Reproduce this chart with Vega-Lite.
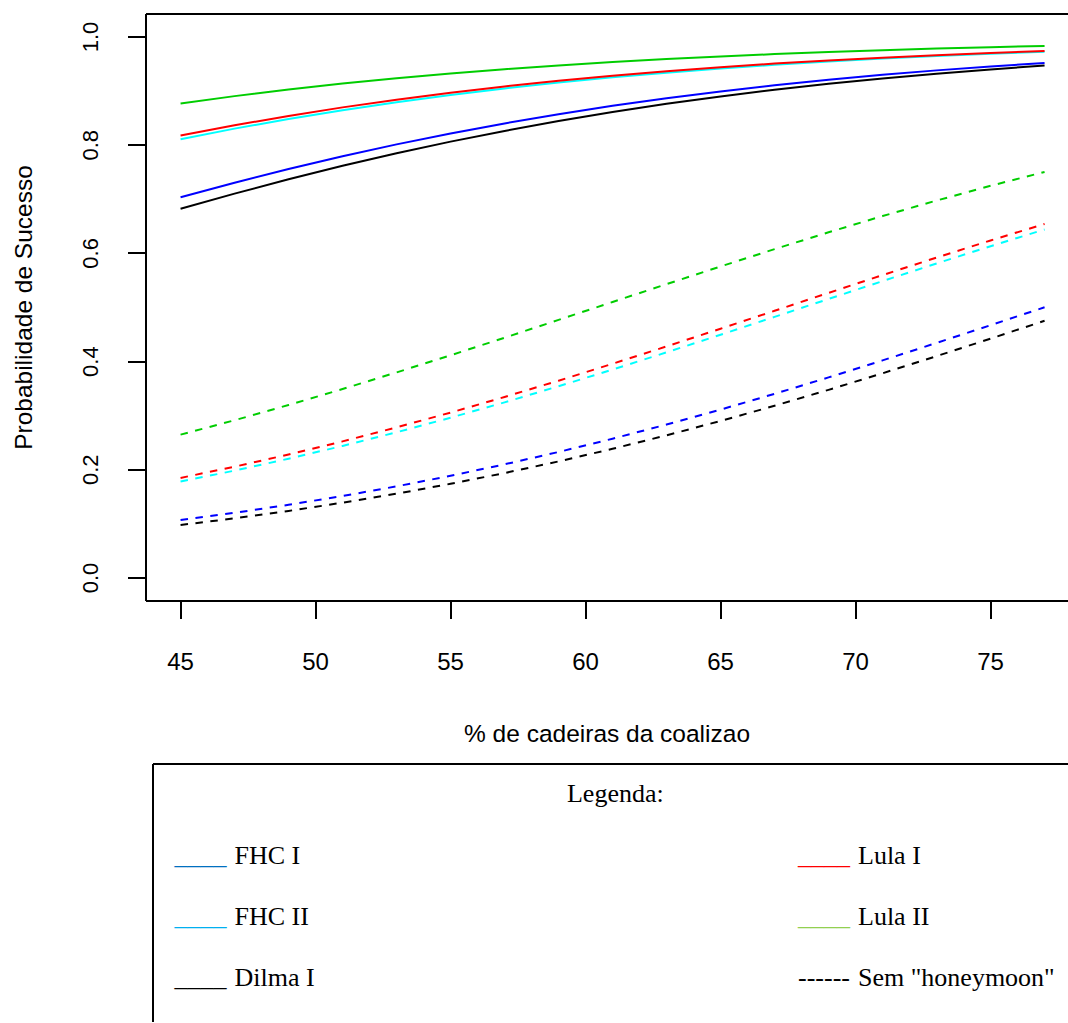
{
  "$schema": "https://vega.github.io/schema/vega-lite/v6.json",
  "background": "white",
  "padding": {"left": 11, "top": 14, "right": 0, "bottom": 0},
  "config": {
    "view": {"stroke": null},
    "axis": {
      "translate": 0,
      "grid": false,
      "domainColor": "#000000",
      "domainWidth": 2,
      "tickColor": "#000000",
      "tickWidth": 2,
      "labelColor": "#000000",
      "titleColor": "#000000",
      "labelFont": "Liberation Sans",
      "titleFont": "Liberation Sans",
      "titleFontWeight": "normal"
    }
  },
  "datasets": {
    "solid": [
      {"pct": 45, "FHC I": 0.7037, "FHC II": 0.8111, "Dilma I": 0.6824, "Lula I": 0.8179, "Lula II": 0.8771},
      {"pct": 47, "FHC I": 0.7306, "FHC II": 0.8306, "Dilma I": 0.7105, "Lula I": 0.8368, "Lula II": 0.8907},
      {"pct": 49, "FHC I": 0.7559, "FHC II": 0.8484, "Dilma I": 0.7370, "Lula I": 0.8541, "Lula II": 0.9029},
      {"pct": 51, "FHC I": 0.7795, "FHC II": 0.8647, "Dilma I": 0.7619, "Lula I": 0.8699, "Lula II": 0.9139},
      {"pct": 53, "FHC I": 0.8015, "FHC II": 0.8795, "Dilma I": 0.7851, "Lula I": 0.8842, "Lula II": 0.9238},
      {"pct": 55, "FHC I": 0.8217, "FHC II": 0.8928, "Dilma I": 0.8066, "Lula I": 0.8971, "Lula II": 0.9326},
      {"pct": 57, "FHC I": 0.8403, "FHC II": 0.9049, "Dilma I": 0.8264, "Lula I": 0.9087, "Lula II": 0.9405},
      {"pct": 59, "FHC I": 0.8573, "FHC II": 0.9157, "Dilma I": 0.8447, "Lula I": 0.9191, "Lula II": 0.9475},
      {"pct": 61, "FHC I": 0.8728, "FHC II": 0.9254, "Dilma I": 0.8613, "Lula I": 0.9284, "Lula II": 0.9537},
      {"pct": 63, "FHC I": 0.8868, "FHC II": 0.9340, "Dilma I": 0.8764, "Lula I": 0.9368, "Lula II": 0.9592},
      {"pct": 65, "FHC I": 0.8994, "FHC II": 0.9418, "Dilma I": 0.8900, "Lula I": 0.9442, "Lula II": 0.9641},
      {"pct": 67, "FHC I": 0.9108, "FHC II": 0.9486, "Dilma I": 0.9024, "Lula I": 0.9508, "Lula II": 0.9684},
      {"pct": 69, "FHC I": 0.9210, "FHC II": 0.9547, "Dilma I": 0.9134, "Lula I": 0.9566, "Lula II": 0.9722},
      {"pct": 71, "FHC I": 0.9301, "FHC II": 0.9601, "Dilma I": 0.9234, "Lula I": 0.9618, "Lula II": 0.9756},
      {"pct": 73, "FHC I": 0.9383, "FHC II": 0.9649, "Dilma I": 0.9322, "Lula I": 0.9664, "Lula II": 0.9786},
      {"pct": 75, "FHC I": 0.9455, "FHC II": 0.9691, "Dilma I": 0.9401, "Lula I": 0.9704, "Lula II": 0.9812},
      {"pct": 77, "FHC I": 0.9520, "FHC II": 0.9728, "Dilma I": 0.9472, "Lula I": 0.9740, "Lula II": 0.9835}
    ],
    "dashed": [
      {"pct": 45, "FHC I": 0.1072, "FHC II": 0.1783, "Dilma I": 0.0980, "Lula I": 0.1850, "Lula II": 0.2650},
      {"pct": 47, "FHC I": 0.1205, "FHC II": 0.1985, "Dilma I": 0.1103, "Lula I": 0.2058, "Lula II": 0.2916},
      {"pct": 49, "FHC I": 0.1353, "FHC II": 0.2205, "Dilma I": 0.1240, "Lula I": 0.2283, "Lula II": 0.3198},
      {"pct": 51, "FHC I": 0.1516, "FHC II": 0.2441, "Dilma I": 0.1392, "Lula I": 0.2525, "Lula II": 0.3493},
      {"pct": 53, "FHC I": 0.1694, "FHC II": 0.2694, "Dilma I": 0.1558, "Lula I": 0.2784, "Lula II": 0.3800},
      {"pct": 55, "FHC I": 0.1889, "FHC II": 0.2963, "Dilma I": 0.1741, "Lula I": 0.3058, "Lula II": 0.4117},
      {"pct": 57, "FHC I": 0.2101, "FHC II": 0.3247, "Dilma I": 0.1940, "Lula I": 0.3346, "Lula II": 0.4441},
      {"pct": 59, "FHC I": 0.2329, "FHC II": 0.3544, "Dilma I": 0.2155, "Lula I": 0.3647, "Lula II": 0.4771},
      {"pct": 61, "FHC I": 0.2575, "FHC II": 0.3853, "Dilma I": 0.2388, "Lula I": 0.3960, "Lula II": 0.5102},
      {"pct": 63, "FHC I": 0.2836, "FHC II": 0.4171, "Dilma I": 0.2637, "Lula I": 0.4281, "Lula II": 0.5432},
      {"pct": 65, "FHC I": 0.3113, "FHC II": 0.4497, "Dilma I": 0.2903, "Lula I": 0.4608, "Lula II": 0.5759},
      {"pct": 67, "FHC I": 0.3404, "FHC II": 0.4827, "Dilma I": 0.3183, "Lula I": 0.4939, "Lula II": 0.6079},
      {"pct": 69, "FHC I": 0.3708, "FHC II": 0.5158, "Dilma I": 0.3478, "Lula I": 0.5270, "Lula II": 0.6390},
      {"pct": 71, "FHC I": 0.4022, "FHC II": 0.5488, "Dilma I": 0.3784, "Lula I": 0.5599, "Lula II": 0.6690},
      {"pct": 73, "FHC I": 0.4345, "FHC II": 0.5814, "Dilma I": 0.4101, "Lula I": 0.5923, "Lula II": 0.6977},
      {"pct": 75, "FHC I": 0.4673, "FHC II": 0.6133, "Dilma I": 0.4425, "Lula I": 0.6239, "Lula II": 0.7249},
      {"pct": 77, "FHC I": 0.5004, "FHC II": 0.6442, "Dilma I": 0.4754, "Lula I": 0.6544, "Lula II": 0.7506}
    ],
    "legendEntries": [
      {"entry": "FHC I", "swatch": "____", "col": 0, "row": 1},
      {"entry": "FHC II", "swatch": "____", "col": 0, "row": 2},
      {"entry": "Dilma I", "swatch": "____", "col": 0, "row": 3},
      {"entry": "Lula I", "swatch": "____", "col": 1, "row": 1},
      {"entry": "Lula II", "swatch": "____", "col": 1, "row": 2},
      {"entry": "Sem \"honeymoon\"", "swatch": "------", "col": 1, "row": 3}
    ],
    "legendTitle": [
      {"entry": "Legenda:", "col": 0.707, "row": 0}
    ]
  },
  "vconcat": [
    {
      "width": 922,
      "height": 587,
      "layer": [
        {
          "data": {"name": "solid"},
          "transform": [{"fold": ["FHC I", "FHC II", "Dilma I", "Lula I", "Lula II"], "as": ["governo", "prob"]}],
          "mark": {"type": "line", "strokeWidth": 2, "clip": true},
          "encoding": {
            "x": {
              "field": "pct", "type": "quantitative",
              "scale": {"domain": [43.72, 77.868], "nice": false, "zero": false},
              "axis": {
                "orient": "bottom",
                "values": [45, 50, 55, 60, 65, 70, 75],
                "tickSize": 18,
                "labelPadding": 32,
                "labelFontSize": 24,
                "labelFlush": false,
                "labelOverlap": false,
                "title": "% de cadeiras da coalizao",
                "titleFontSize": 24.5,
                "titlePadding": 48
              }
            },
            "y": {
              "field": "prob", "type": "quantitative",
              "scale": {"domain": [-0.0425, 1.0425], "nice": false, "zero": false},
              "axis": {
                "orient": "left",
                "values": [0, 0.2, 0.4, 0.6, 0.8, 1.0],
                "format": ".1f",
                "tickSize": 18,
                "labelAngle": -90,
                "labelAlign": "center",
                "labelBaseline": "alphabetic",
                "labelPadding": 30,
                "labelFontSize": 22,
                "labelFlush": false,
                "labelOverlap": false,
                "title": "Probabilidade de Sucesso",
                "titleFontSize": 24.5,
                "titlePadding": 43
              }
            },
            "color": {
              "field": "governo", "type": "nominal",
              "scale": {"domain": ["FHC I", "FHC II", "Dilma I", "Lula I", "Lula II"], "range": ["#0000FF", "#00FFFF", "#000000", "#FF0000", "#00CD00"]},
              "legend": null
            }
          }
        },
        {
          "data": {"name": "dashed"},
          "transform": [{"fold": ["FHC I", "FHC II", "Dilma I", "Lula I", "Lula II"], "as": ["governo", "prob"]}],
          "mark": {"type": "line", "strokeWidth": 2, "strokeDash": [7.5, 7.5], "clip": true},
          "encoding": {
            "x": {
              "field": "pct", "type": "quantitative",
              "scale": {"domain": [43.72, 77.868], "nice": false, "zero": false},
              "axis": {"orient": "top", "labels": false, "ticks": false, "title": null, "domain": true}
            },
            "y": {
              "field": "prob", "type": "quantitative",
              "scale": {"domain": [-0.0425, 1.0425], "nice": false, "zero": false},
              "axis": {
                "orient": "left",
                "values": [0, 0.2, 0.4, 0.6, 0.8, 1.0],
                "format": ".1f",
                "tickSize": 18,
                "labelAngle": -90,
                "labelAlign": "center",
                "labelBaseline": "alphabetic",
                "labelPadding": 30,
                "labelFontSize": 22,
                "labelFlush": false,
                "labelOverlap": false,
                "title": "Probabilidade de Sucesso",
                "titleFontSize": 24.5,
                "titlePadding": 43
              }
            },
            "color": {
              "field": "governo", "type": "nominal",
              "scale": {"domain": ["FHC I", "FHC II", "Dilma I", "Lula I", "Lula II"], "range": ["#0000FF", "#00FFFF", "#000000", "#FF0000", "#00CD00"]},
              "legend": null
            }
          }
        }
      ],
      "resolve": {"axis": {"x": "independent"}}
    },
    {
      "width": 922,
      "height": 258,
      "layer": [
        {
          "data": {"name": "legendTitle"},
          "mark": {"type": "text", "font": "Liberation Serif", "fontSize": 26, "align": "center", "baseline": "alphabetic", "color": "#000000"},
          "encoding": {
            "x": {
              "field": "col", "type": "quantitative",
              "scale": {"domain": [-0.0457, 1.4330], "nice": false, "zero": false},
              "axis": {"orient": "top", "labels": false, "ticks": false, "title": null, "domain": true, "domainDash": [0, 7, 2000]}
            },
            "y": {
              "field": "row", "type": "quantitative",
              "scale": {"domain": [-0.631, 3.598], "reverse": true, "nice": false, "zero": false},
              "axis": {"orient": "left", "offset": -7, "labels": false, "ticks": false, "title": null, "domain": true}
            },
            "text": {"field": "entry"}
          }
        },
        {
          "data": {"name": "legendEntries"},
          "mark": {"type": "text", "font": "Liberation Serif", "fontSize": 26, "align": "left", "baseline": "alphabetic"},
          "encoding": {
            "x": {
              "field": "col", "type": "quantitative",
              "scale": {"domain": [-0.0457, 1.4330], "nice": false, "zero": false},
              "axis": {"orient": "top", "labels": false, "ticks": false, "title": null, "domain": true, "domainDash": [0, 7, 2000]}
            },
            "y": {
              "field": "row", "type": "quantitative",
              "scale": {"domain": [-0.631, 3.598], "reverse": true, "nice": false, "zero": false},
              "axis": {"orient": "left", "offset": -7, "labels": false, "ticks": false, "title": null, "domain": true}
            },
            "text": {"field": "swatch"},
            "color": {
              "field": "entry", "type": "nominal",
              "scale": {"domain": ["FHC I", "FHC II", "Dilma I", "Lula I", "Lula II", "Sem \"honeymoon\""], "range": ["#0070C0", "#00B0F0", "#000000", "#FF0000", "#92D050", "#000000"]},
              "legend": null
            }
          }
        },
        {
          "data": {"name": "legendEntries"},
          "mark": {"type": "text", "font": "Liberation Serif", "fontSize": 26, "align": "left", "baseline": "alphabetic", "dx": 60, "color": "#000000"},
          "encoding": {
            "x": {
              "field": "col", "type": "quantitative",
              "scale": {"domain": [-0.0457, 1.4330], "nice": false, "zero": false},
              "axis": {"orient": "top", "labels": false, "ticks": false, "title": null, "domain": true, "domainDash": [0, 7, 2000]}
            },
            "y": {
              "field": "row", "type": "quantitative",
              "scale": {"domain": [-0.631, 3.598], "reverse": true, "nice": false, "zero": false},
              "axis": {"orient": "left", "offset": -7, "labels": false, "ticks": false, "title": null, "domain": true}
            },
            "text": {"field": "entry"}
          }
        }
      ]
    }
  ],
  "spacing": 17,
  "resolve": {"scale": {"color": "independent"}}
}
